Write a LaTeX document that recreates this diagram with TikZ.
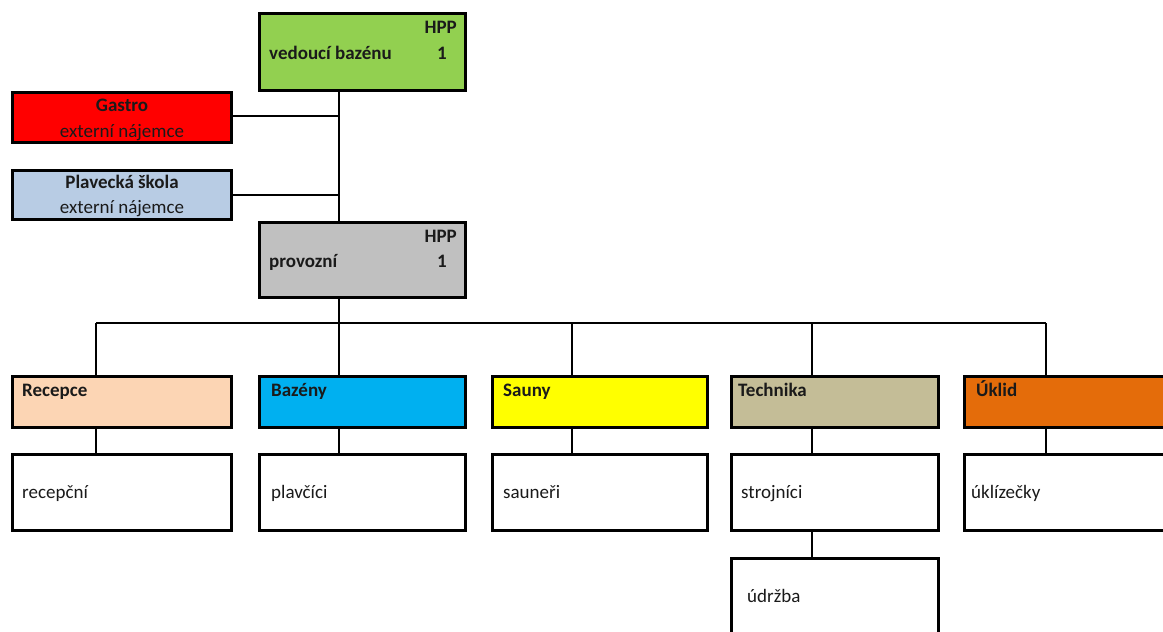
\documentclass[tikz,border=0pt]{standalone}
\usepackage{fontspec}
\setmainfont{Carlito}
\definecolor{cgreen}{HTML}{92D050}
\definecolor{cred}{HTML}{FF0000}
\definecolor{clblue}{HTML}{B8CCE4}
\definecolor{cgrey}{HTML}{C0C0C0}
\definecolor{cpeach}{HTML}{FCD5B4}
\definecolor{ccyan}{HTML}{00B0F0}
\definecolor{cyellow}{HTML}{FFFF00}
\definecolor{ctan}{HTML}{C4BD97}
\definecolor{corange}{HTML}{E46C0A}
\definecolor{ctext}{HTML}{1A1A1A}
\tikzset{
  box/.style={draw=black, line width=3pt, rectangle, inner sep=0pt, anchor=north west},
  conn/.style={draw=black, line width=1.6pt},
  txt/.style={inner sep=0pt, text=ctext, font=\fontsize{19}{22}\selectfont},
  btxt/.style={txt, font=\fontsize{19}{22}\selectfont\bfseries},
}
\begin{document}
\begin{tikzpicture}[x=1pt,y=-1pt]
\useasboundingbox (0,0) rectangle (1163,632);
% boxes (anchor = outer edge of border)
\node[box, fill=cgreen, minimum width=206pt, minimum height=77pt] (top) at (258,12) {};
\node[box, fill=cred, minimum width=219pt, minimum height=50pt] (gastro) at (11,91) {};
\node[box, fill=clblue, minimum width=219pt, minimum height=49pt] (skola) at (11,169) {};
\node[box, fill=cgrey, minimum width=206pt, minimum height=75pt] (prov) at (258,221) {};

\node[box, fill=cpeach, minimum width=219pt, minimum height=51pt] (rec) at (11,375) {};
\node[box, fill=ccyan, minimum width=206pt, minimum height=51pt] (baz) at (258,375) {};
\node[box, fill=cyellow, minimum width=215pt, minimum height=51pt] (sau) at (491,375) {};
\node[box, fill=ctan, minimum width=207pt, minimum height=51pt] (tech) at (730,375) {};
\node[box, fill=corange, minimum width=219pt, minimum height=51pt] (ukl) at (963,375) {};

\node[box, fill=white, minimum width=219pt, minimum height=76pt] (rec2) at (11,453) {};
\node[box, fill=white, minimum width=206pt, minimum height=76pt] (baz2) at (258,453) {};
\node[box, fill=white, minimum width=215pt, minimum height=76pt] (sau2) at (491,453) {};
\node[box, fill=white, minimum width=207pt, minimum height=76pt] (tech2) at (730,453) {};
\node[box, fill=white, minimum width=219pt, minimum height=76pt] (ukl2) at (963,453) {};
\node[box, fill=white, minimum width=207pt, minimum height=80pt] (udr) at (730,557) {};

% connector coordinates
\coordinate (jg) at (339,116);
\coordinate (js) at (339,195);
\coordinate (bus) at (339,323);
\coordinate (b1) at (96,323);
\coordinate (b3) at (572,323);
\coordinate (b4) at (812,323);
\coordinate (b5) at (1046,323);

% connectors
\draw[conn] (top.south -| bus) -- (prov.north -| bus);
\draw[conn] (gastro.east |- jg) -- (jg);
\draw[conn] (skola.east |- js) -- (js);
\draw[conn] (prov.south -| bus) -- (bus);
\draw[conn] (b1) -- (b5);
\draw[conn] (b1) -- (rec.north -| b1);
\draw[conn] (bus) -- (baz.north -| bus);
\draw[conn] (b3) -- (sau.north -| b3);
\draw[conn] (b4) -- (tech.north -| b4);
\draw[conn] (b5) -- (ukl.north -| b5);
\draw[conn] (rec.south -| b1) -- (rec2.north -| b1);
\draw[conn] (baz.south -| bus) -- (baz2.north -| bus);
\draw[conn] (sau.south -| b3) -- (sau2.north -| b3);
\draw[conn] (tech.south -| b4) -- (tech2.north -| b4);
\draw[conn] (ukl.south -| b5) -- (ukl2.north -| b5);
\draw[conn] (tech2.south -| b4) -- (udr.north -| b4);

% texts
\node[btxt, anchor=base east] (t1) at (457,33) {HPP};
\node[btxt, anchor=base west] (t2) at (269,59) {vedoucí bazénu};
\node[btxt, anchor=base east] (t3) at (447,59) {1};
\node[btxt, anchor=base] (t4) at (122,111) {Gastro};
\node[txt, anchor=base] (t5) at (122,137) {externí nájemce};
\node[btxt, anchor=base] (t6) at (122,188) {Plavecká škola};
\node[txt, anchor=base] (t7) at (122,213) {externí nájemce};
\node[btxt, anchor=base east] (t8) at (457,242) {HPP};
\node[btxt, anchor=base west] (t9) at (269,267) {provozní};
\node[btxt, anchor=base east] (t10) at (447,267) {1};

\node[btxt, anchor=base west] (r1) at (22,396) {Recepce};
\node[btxt, anchor=base west] (r2) at (271,396) {Bazény};
\node[btxt, anchor=base west] (r3) at (503,396) {Sauny};
\node[btxt, anchor=base west] (r4) at (738,396) {Technika};
\node[btxt, anchor=base west] (r5) at (976,396) {Úklid};

\node[txt, anchor=base west] (l1) at (22,498) {recepční};
\node[txt, anchor=base west] (l2) at (271,498) {plavčíci};
\node[txt, anchor=base west] (l3) at (503,498) {sauneři};
\node[txt, anchor=base west] (l4) at (741,498) {strojníci};
\node[txt, anchor=base west] (l5) at (971,498) {úklízečky};
\node[txt, anchor=base west] (l6) at (747,602) {údržba};
\end{tikzpicture}
\end{document}
